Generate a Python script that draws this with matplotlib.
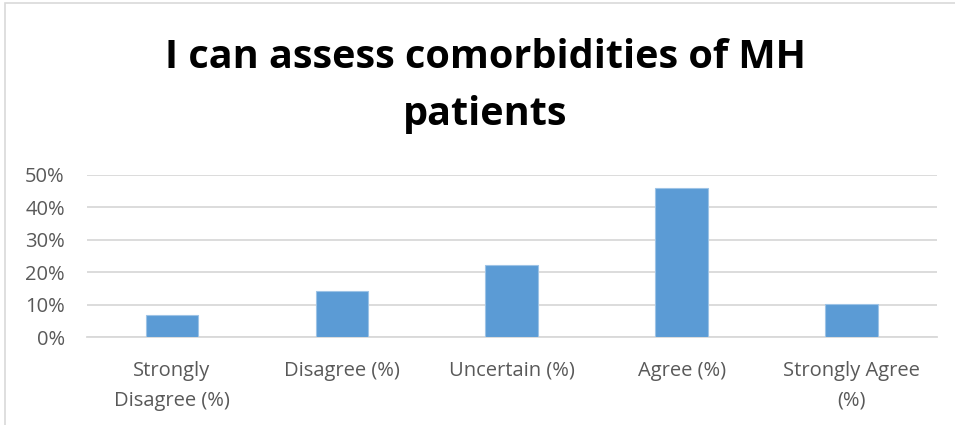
import matplotlib
matplotlib.use("Agg")
import matplotlib.pyplot as plt
from matplotlib.patches import Rectangle

categories = ["Strongly\nDisagree (%)", "Disagree (%)", "Uncertain (%)", "Agree (%)", "Strongly Agree\n(%)"]
values = [0.068, 0.143, 0.221, 0.460, 0.102]
yticks = [0, 0.1, 0.2, 0.3, 0.4, 0.5]
ytick_labels = ["0%", "10%", "20%", "30%", "40%", "50%"]

plt.rcParams["font.family"] = ["Open Sans", "DejaVu Sans"]

fig = plt.figure(figsize=(9.55, 4.25), dpi=100)
ax = fig.add_axes([0.0911, 0.2064, 0.8897, 0.3826])

x = range(len(categories))
ax.bar(x, values, width=0.31, color="#5b9bd5", edgecolor="#9dc3e6", linewidth=0.8, zorder=3)
ax.set_xlim(-0.5, len(categories) - 0.5)
ax.set_ylim(0, 0.5)
ax.set_yticks(yticks)
ax.set_yticklabels(ytick_labels)
ax.set_xticks(list(x))
ax.set_xticklabels(categories, linespacing=1.65)
ax.grid(axis="y", color="#d9d9d9", linewidth=1.3, zorder=0)
for s in ["top", "right", "left"]:
    ax.spines[s].set_visible(False)
ax.spines["bottom"].set_color("#d9d9d9")
ax.spines["bottom"].set_linewidth(1.3)
ax.tick_params(axis="both", length=0, labelsize=14.5, colors="#595959")
ax.tick_params(axis="x", pad=17)
ax.tick_params(axis="y", pad=16)

fig.text(0.508, 0.798, "I can assess comorbidities of MH\npatients", ha="center", va="center",
         fontsize=28.5, fontweight="bold", color="black", linespacing=1.6)

fig.patches.append(Rectangle((0.005, -0.01), 1.1, 1.003, transform=fig.transFigure,
                             fill=False, edgecolor="#d9d9d9", linewidth=1.2))

fig.savefig("out.png", dpi=100)
